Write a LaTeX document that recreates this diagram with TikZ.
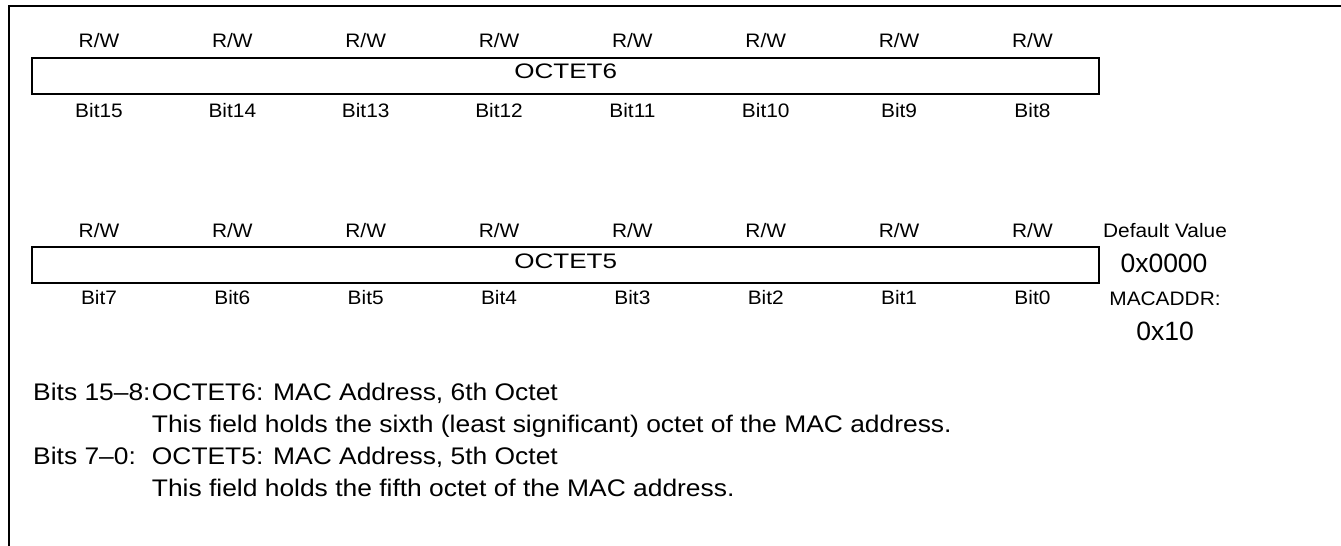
\documentclass[tikz,border=0pt]{standalone}
\usepackage{fontspec}
\setmainfont{Liberation Sans}
\newfontfamily\lblfont[FakeStretch=1.07]{Liberation Sans}
\newfontfamily\octfont[FakeStretch=1.24]{Liberation Sans}
\newfontfamily\descfont[FakeStretch=1.1]{Liberation Sans}
\newfontfamily\valfont{Liberation Sans}
\begin{document}
\begin{tikzpicture}[x=1pt,y=-1pt,
  frameline/.style={line width=2.4pt},
  regbox/.style={draw,line width=2.2pt,minimum width=1066.7pt,minimum height=36pt,inner sep=0pt},
  lbl/.style={inner sep=0pt,anchor=base,font=\lblfont\fontsize{19.5}{22}\selectfont},
  octlbl/.style={inner sep=0pt,anchor=base,font=\octfont\fontsize{21}{24}\selectfont},
  val/.style={inner sep=0pt,anchor=base,font=\valfont\fontsize{26.5}{30}\selectfont},
  desc/.style={inner sep=0pt,anchor=base west,font=\descfont\fontsize{24}{28}\selectfont}]
\useasboundingbox (0,0) rectangle (1341,546);
\draw[frameline] (1342,6) -- (8.7,6) -- (8.7,547);
% register boxes
\node[regbox] (oct6) at (565.7,75.7) {};
\node[regbox] (oct5) at (565.7,264.7) {};
\node[octlbl] (t6) at (565.7,78.7) {OCTET6};
\node[octlbl] (t5) at (565.7,268.2) {OCTET5};
% access and bit labels
\foreach \i/\b/\c in {0/15/7,1/14/6,2/13/5,3/12/4,4/11/3,5/10/2,6/9/1,7/8/0}{
  \node[lbl] (rwa\i) at (99+133.35*\i,47) {R/W};
  \node[lbl] (bita\i) at (99+133.35*\i,117) {Bit\b};
  \node[lbl] (rwb\i) at (99+133.35*\i,237) {R/W};
  \node[lbl] (bitb\i) at (99+133.35*\i,304) {Bit\c};
}
% default value
\node[lbl] (dv) at (1165,237) {Default Value};
\node[val] (dvv) at (1164,272.7) {0x0000};
\node[lbl] (ma) at (1165,305) {MACADDR:};
\node[val] (mav) at (1165,340) {0x10};
% description
\node[desc] (d1a) at (33,400) {Bits 15–8:};
\node[desc] (d1b) at (151.7,400) {OCTET6: MAC Address, 6th Octet};
\node[desc] (d2) at (151.7,432.5) {This field holds the sixth (least significant) octet of the MAC address.};
\node[desc] (d3a) at (33,464.5) {Bits 7–0:};
\node[desc] (d3b) at (151.7,464.5) {OCTET5: MAC Address, 5th Octet};
\node[desc] (d4) at (151.7,496.5) {This field holds the fifth octet of the MAC address.};
\end{tikzpicture}
\end{document}
